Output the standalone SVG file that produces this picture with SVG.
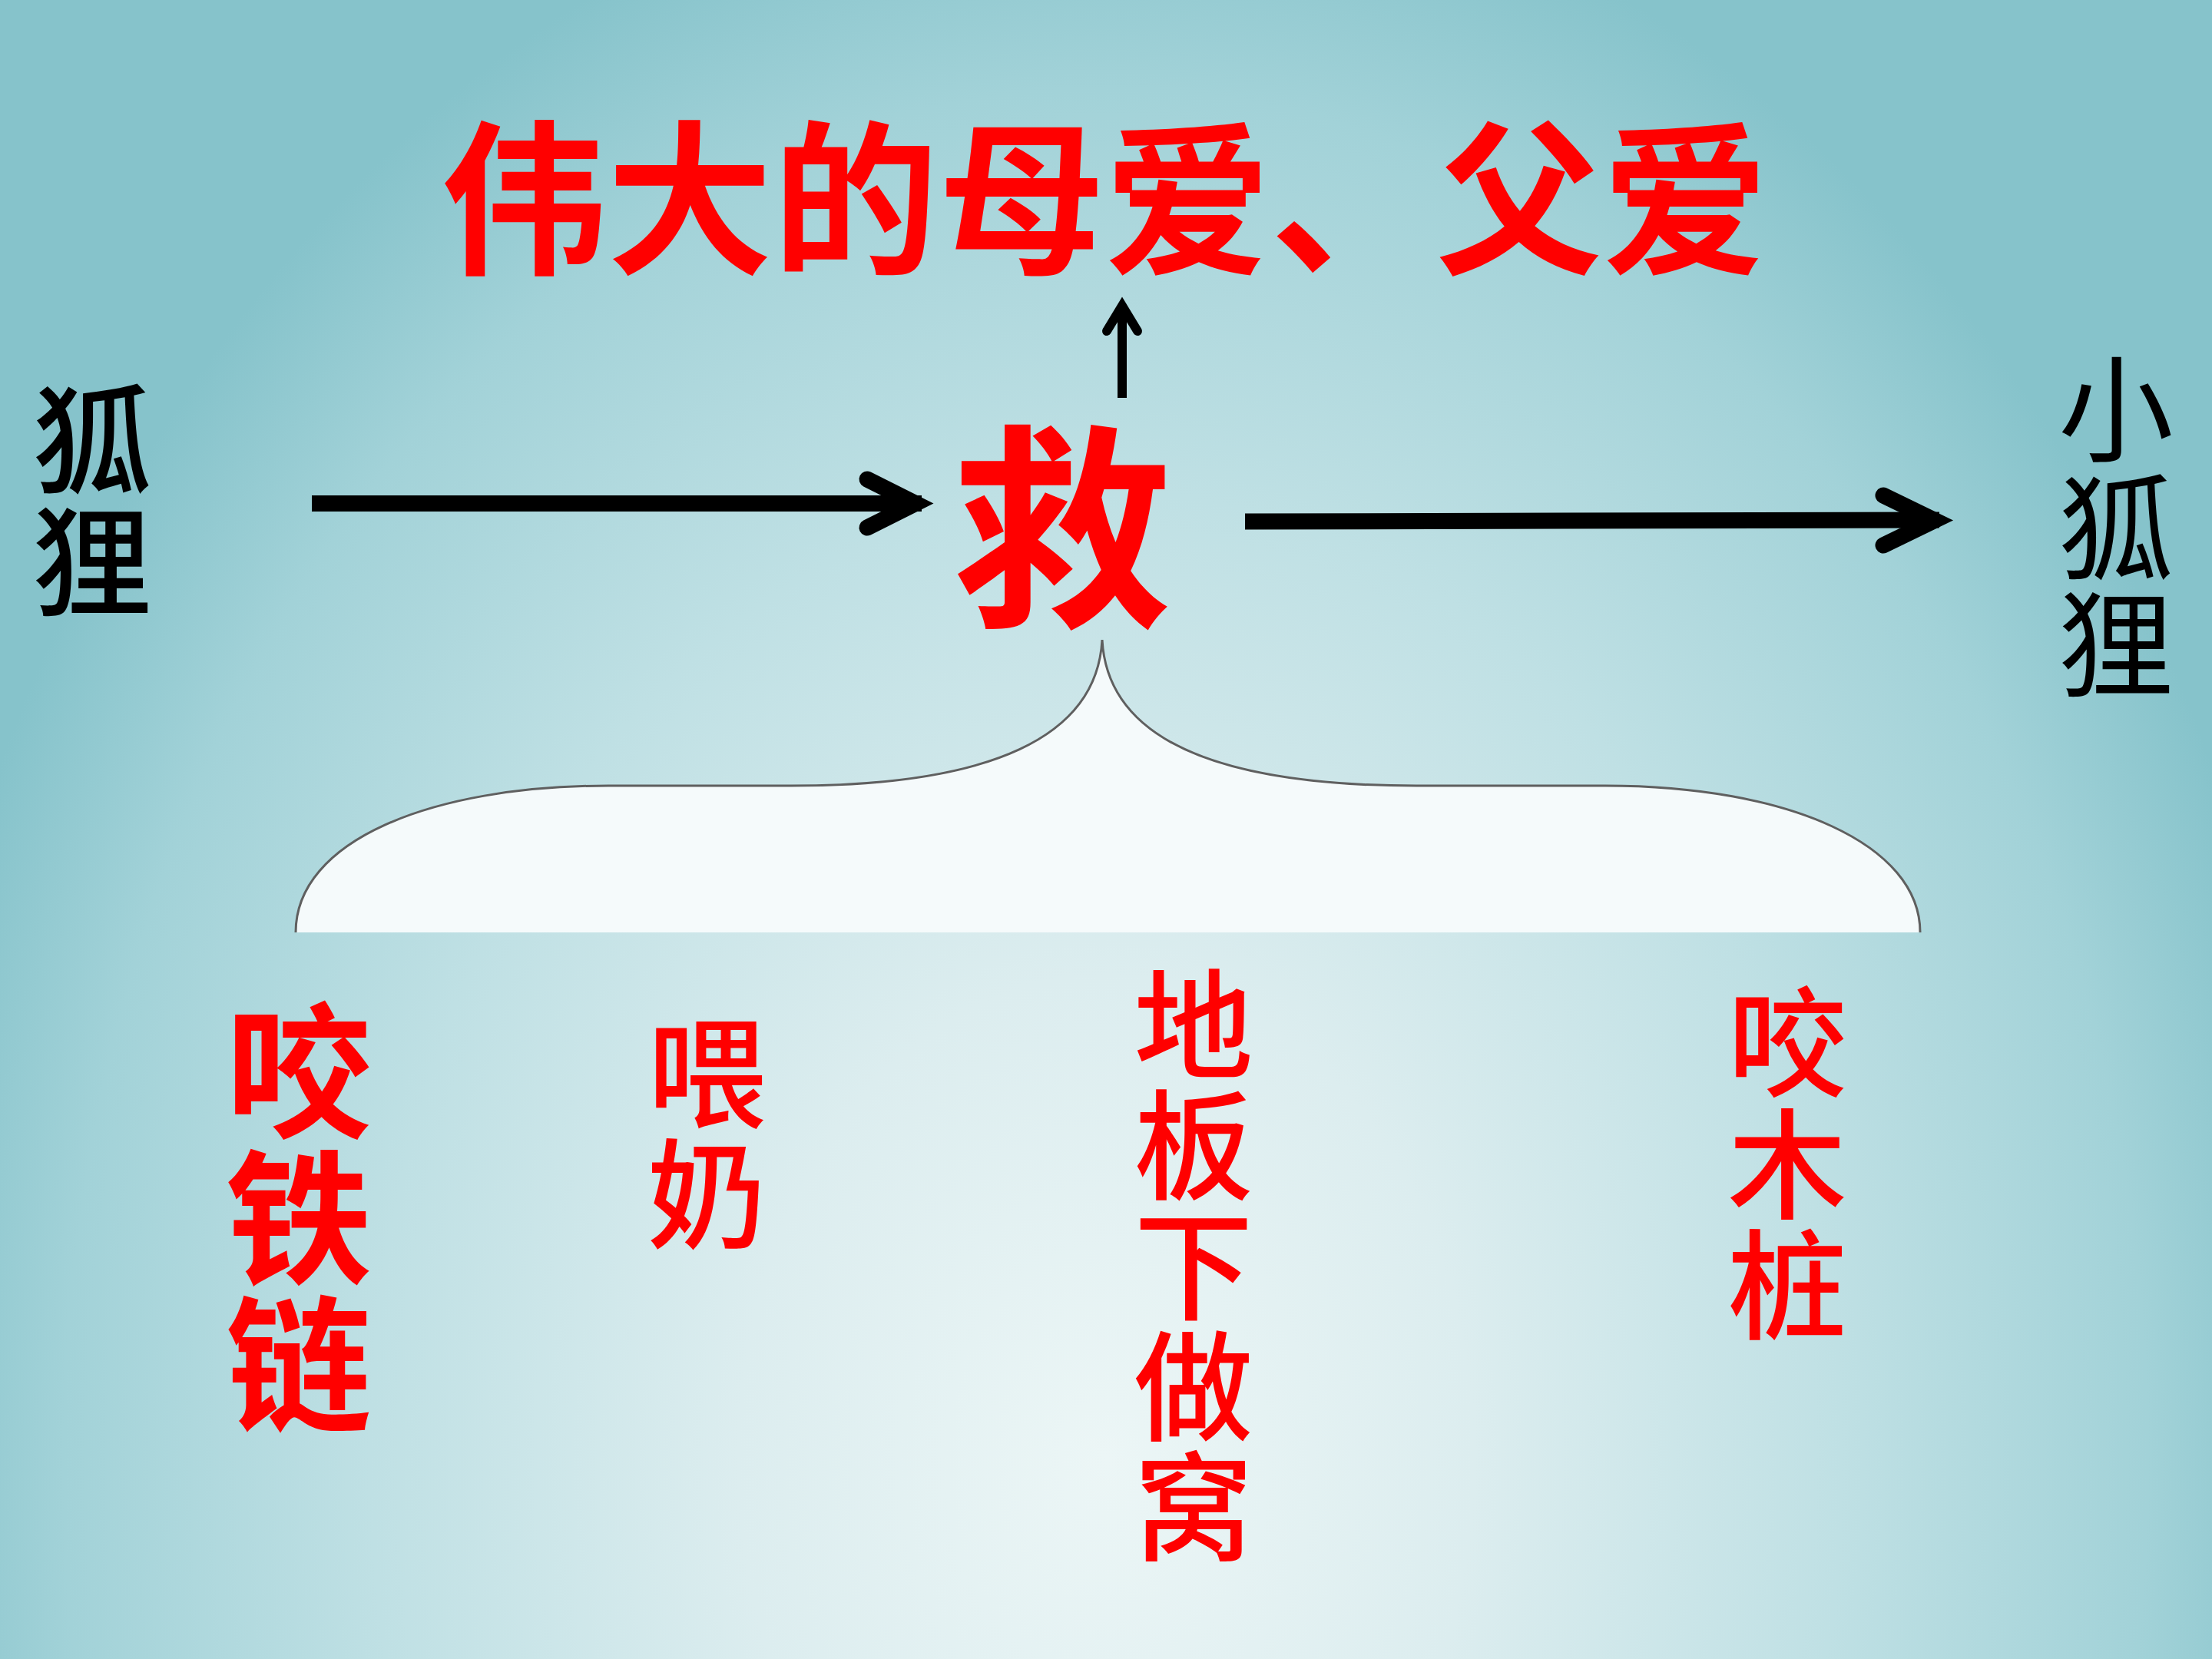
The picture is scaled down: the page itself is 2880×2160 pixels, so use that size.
<svg xmlns="http://www.w3.org/2000/svg" width="2880" height="2160" viewBox="0 0 2880 2160">
<defs>
<radialGradient id="bg" gradientUnits="userSpaceOnUse" cx="1440" cy="1900" r="2100" gradientTransform="translate(1440 1900) scale(0.76 1) translate(-1440 -1900)">
<stop offset="0" stop-color="#ecf6f6"/>
<stop offset="0.3" stop-color="#dcedef"/>
<stop offset="0.6" stop-color="#bfe0e4"/>
<stop offset="0.85" stop-color="#a2d2d8"/>
<stop offset="1" stop-color="#86c3cb"/>
</radialGradient>
<style>
.cjk{font-family:"Noto Sans CJK SC","Noto Sans CJK TC",sans-serif;}
.red{fill:#ff0000;}
.blk{fill:#000000;}
.vert{writing-mode:vertical-rl;text-anchor:start;}
.line{stroke:#000;fill:none;stroke-linecap:butt;}
.head{stroke:#000;fill:none;stroke-linecap:round;stroke-linejoin:miter;stroke-miterlimit:10;}
.mid{text-anchor:middle;}
</style>
</defs>
<rect x="0" y="0" width="2880" height="2160" fill="url(#bg)"/>

<g id="brace">
<path d="M385,1214 C385,1095 560,1023 792,1023 L1030,1023 C1290,1023 1428,960 1435,833 C1442,960 1580,1023 1844,1023 L2090,1023 C2330,1023 2500,1100 2500,1214 Z" fill="#f5fafb"/>
<path d="M385,1214 C385,1095 560,1023 792,1023 L1030,1023 C1290,1023 1428,960 1435,833 C1442,960 1580,1023 1844,1023 L2090,1023 C2330,1023 2500,1100 2500,1214" fill="none" stroke="#5f5f5f" stroke-width="3"/>
</g>

<g id="connectors">
<line class="line" x1="406" y1="655.5" x2="1200" y2="655.5" stroke-width="21"/>
<polyline class="head" points="1129,624 1192,655.5 1129,687" stroke-width="21"/>
<line class="line" x1="1621" y1="679" x2="2525" y2="677" stroke-width="21"/>
<polyline class="head" points="2452,645 2519,677.5 2452,710" stroke-width="21"/>
<line class="line" x1="1461" y1="518" x2="1461" y2="400" stroke-width="12"/>
<polyline class="head" points="1441,431 1461,398 1481,431" stroke-width="12"/>
</g>

<g id="title">
<text class="cjk red mid" x="1438" y="340" font-size="216" font-weight="700">伟大的母爱、父爱</text>
</g>

<g id="jiu">
<text class="cjk red mid" x="1383" y="795" font-size="285" font-weight="700">救</text>
</g>

<g id="huli">
<text class="cjk blk vert" x="120" y="494.5 652.5" font-size="155" font-weight="500">狐狸</text>
</g>

<g id="xiaohuli">
<text class="cjk blk vert" x="2755" y="457 612 763" font-size="150" font-weight="400">小狐狸</text>
</g>

<g id="yaotielian">
<text class="cjk red vert" x="389" y="1299 1490 1681" font-size="190" font-weight="700">咬铁链</text>
</g>

<g id="weinai">
<text class="cjk red vert" x="920" y="1318.5 1476.5" font-size="155" font-weight="500">喂奶</text>
</g>

<g id="dibanxiazuowo">
<text class="cjk red vert" x="1554" y="1255.5 1412.5 1569.5 1726.5 1883.5" font-size="155" font-weight="500">地板下做窝</text>
</g>

<g id="yaomuzhuang">
<text class="cjk red vert" x="2327" y="1278.5 1437.5 1594.5" font-size="155" font-weight="500">咬木桩</text>
</g>
</svg>
